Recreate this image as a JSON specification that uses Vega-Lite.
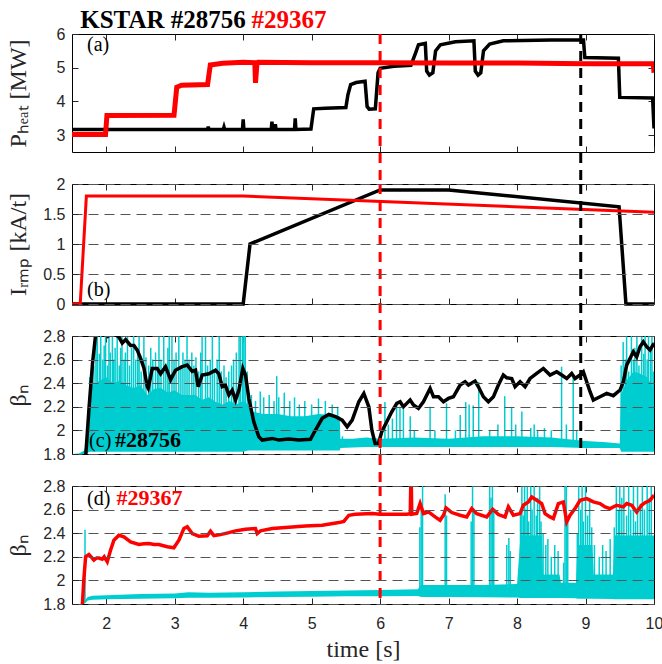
{
"$schema": "https://vega.github.io/schema/vega-lite/v6.json",
"background": "white",
"padding": {"left": 5, "top": 7, "right": 0, "bottom": 0},
"spacing": 32,
"bounds": "flush",
"config": {
  "view": {"stroke": "#000000", "strokeWidth": 1},
  "axis": {"domain": false, "grid": false, "tickColor": "#262626", "tickSize": -6, "tickWidth": 1, "labelFont": "Liberation Sans", "labelFontSize": 16, "labelColor": "#262626", "labelFlush": false, "titleFont": "Liberation Serif", "titleFontSize": 24, "titleFontWeight": "normal", "titleColor": "#262626", "gridColor": "#555555", "gridDash": [10, 6], "gridWidth": 1, "gridOpacity": 1}
},
"datasets": {
  "a_k": [{"t":1.5,"v":3.17},{"t":3.48,"v":3.17},{"t":3.49,"v":3.25},{"t":3.5,"v":3.17},{"t":3.71,"v":3.17},{"t":3.72,"v":3.24},{"t":3.73,"v":3.17},{"t":3.99,"v":3.17},{"t":4.0,"v":3.47},{"t":4.01,"v":3.17},{"t":4.41,"v":3.17},{"t":4.42,"v":3.4},{"t":4.43,"v":3.17},{"t":4.46,"v":3.17},{"t":4.47,"v":3.32},{"t":4.48,"v":3.17},{"t":4.75,"v":3.17},{"t":4.76,"v":3.5},{"t":4.77,"v":3.17},{"t":4.99,"v":3.18},{"t":5.03,"v":3.78},{"t":5.2,"v":3.8},{"t":5.5,"v":3.82},{"t":5.53,"v":4.2},{"t":5.57,"v":4.5},{"t":5.65,"v":4.56},{"t":5.78,"v":4.6},{"t":5.81,"v":3.85},{"t":5.84,"v":3.77},{"t":5.93,"v":3.78},{"t":5.97,"v":4.85},{"t":6.0,"v":4.98},{"t":6.2,"v":5.04},{"t":6.45,"v":5.07},{"t":6.52,"v":5.45},{"t":6.56,"v":5.68},{"t":6.66,"v":5.72},{"t":6.68,"v":4.9},{"t":6.72,"v":4.78},{"t":6.77,"v":4.85},{"t":6.81,"v":5.5},{"t":6.88,"v":5.68},{"t":7.1,"v":5.77},{"t":7.37,"v":5.8},{"t":7.39,"v":4.9},{"t":7.43,"v":4.78},{"t":7.47,"v":4.85},{"t":7.51,"v":5.5},{"t":7.6,"v":5.7},{"t":7.8,"v":5.8},{"t":8.5,"v":5.82},{"t":8.97,"v":5.82},{"t":8.99,"v":5.3},{"t":9.48,"v":5.28},{"t":9.5,"v":4.12},{"t":9.98,"v":4.1},{"t":10.0,"v":3.2}],
  "a_r": [{"t":1.5,"v":3.02},{"t":1.99,"v":3.02},{"t":2.01,"v":3.58},{"t":2.99,"v":3.59},{"t":3.03,"v":4.42},{"t":3.1,"v":4.48},{"t":3.48,"v":4.5},{"t":3.52,"v":5.08},{"t":3.7,"v":5.13},{"t":4.0,"v":5.16},{"t":4.17,"v":5.15},{"t":4.18,"v":4.55},{"t":4.2,"v":5.1},{"t":4.22,"v":5.16},{"t":5.0,"v":5.15},{"t":6.0,"v":5.15},{"t":7.0,"v":5.14},{"t":8.0,"v":5.14},{"t":9.0,"v":5.12},{"t":9.99,"v":5.12},{"t":10.0,"v":4.85}],
  "b_r": [{"t":1.5,"v":0},{"t":1.62,"v":0},{"t":1.71,"v":1.8},{"t":4.0,"v":1.8},{"t":10.0,"v":1.53}],
  "b_k": [{"t":1.5,"v":0},{"t":4.0,"v":0},{"t":4.1,"v":1.0},{"t":6.0,"v":1.9},{"t":7.0,"v":1.9},{"t":9.49,"v":1.62},{"t":9.59,"v":0},{"t":10.0,"v":0}],
  "c_k": [{"t":1.7,"v":1.78},{"t":1.75,"v":2.2},{"t":1.8,"v":2.57},{"t":1.845,"v":2.81},{"t":1.9,"v":2.95},{"t":1.97,"v":2.9},{"t":2.03,"v":2.8},{"t":2.1,"v":2.83},{"t":2.185,"v":2.79},{"t":2.234,"v":2.74},{"t":2.283,"v":2.77},{"t":2.356,"v":2.72},{"t":2.404,"v":2.72},{"t":2.453,"v":2.68},{"t":2.502,"v":2.61},{"t":2.55,"v":2.53},{"t":2.599,"v":2.37},{"t":2.613,"v":2.356},{"t":2.672,"v":2.525},{"t":2.745,"v":2.525},{"t":2.794,"v":2.48},{"t":2.866,"v":2.54},{"t":2.94,"v":2.43},{"t":3.012,"v":2.51},{"t":3.11,"v":2.54},{"t":3.183,"v":2.553},{"t":3.256,"v":2.5},{"t":3.304,"v":2.51},{"t":3.343,"v":2.37},{"t":3.402,"v":2.47},{"t":3.499,"v":2.48},{"t":3.596,"v":2.51},{"t":3.645,"v":2.48},{"t":3.694,"v":2.37},{"t":3.742,"v":2.38},{"t":3.791,"v":2.3},{"t":3.84,"v":2.34},{"t":3.888,"v":2.257},{"t":3.937,"v":2.34},{"t":3.995,"v":2.525},{"t":4.034,"v":2.47},{"t":4.083,"v":2.27},{"t":4.156,"v":2.07},{"t":4.229,"v":1.946},{"t":4.278,"v":1.918},{"t":4.424,"v":1.932},{"t":4.521,"v":1.918},{"t":4.667,"v":1.926},{"t":4.813,"v":1.918},{"t":4.983,"v":1.924},{"t":5.056,"v":2.003},{"t":5.154,"v":2.102},{"t":5.251,"v":2.135},{"t":5.348,"v":2.116},{"t":5.446,"v":2.087},{"t":5.519,"v":2.031},{"t":5.592,"v":2.087},{"t":5.689,"v":2.243},{"t":5.762,"v":2.313},{"t":5.835,"v":2.2},{"t":5.88,"v":2.0},{"t":5.927,"v":1.89},{"t":5.976,"v":1.89},{"t":6.024,"v":1.989},{"t":6.097,"v":2.073},{"t":6.17,"v":2.158},{"t":6.243,"v":2.229},{"t":6.292,"v":2.243},{"t":6.34,"v":2.2},{"t":6.389,"v":2.229},{"t":6.438,"v":2.257},{"t":6.487,"v":2.215},{"t":6.56,"v":2.186},{"t":6.632,"v":2.243},{"t":6.73,"v":2.356},{"t":6.779,"v":2.285},{"t":6.852,"v":2.285},{"t":6.925,"v":2.243},{"t":6.998,"v":2.271},{"t":7.07,"v":2.285},{"t":7.168,"v":2.384},{"t":7.241,"v":2.412},{"t":7.29,"v":2.384},{"t":7.387,"v":2.418},{"t":7.436,"v":2.37},{"t":7.508,"v":2.285},{"t":7.581,"v":2.243},{"t":7.655,"v":2.285},{"t":7.727,"v":2.384},{"t":7.8,"v":2.469},{"t":7.85,"v":2.446},{"t":7.922,"v":2.44},{"t":7.971,"v":2.37},{"t":8.044,"v":2.412},{"t":8.117,"v":2.37},{"t":8.19,"v":2.44},{"t":8.287,"v":2.483},{"t":8.384,"v":2.525},{"t":8.482,"v":2.469},{"t":8.579,"v":2.497},{"t":8.652,"v":2.469},{"t":8.725,"v":2.44},{"t":8.798,"v":2.483},{"t":8.847,"v":2.44},{"t":8.92,"v":2.469},{"t":8.968,"v":2.497},{"t":9.017,"v":2.412},{"t":9.066,"v":2.328},{"t":9.114,"v":2.257},{"t":9.212,"v":2.285},{"t":9.309,"v":2.313},{"t":9.406,"v":2.294},{"t":9.504,"v":2.342},{"t":9.552,"v":2.412},{"t":9.601,"v":2.553},{"t":9.65,"v":2.61},{"t":9.698,"v":2.666},{"t":9.747,"v":2.624},{"t":9.796,"v":2.709},{"t":9.844,"v":2.751},{"t":9.893,"v":2.709},{"t":9.942,"v":2.681},{"t":9.99,"v":2.729},{"t":10.0,"v":2.73}],
  "c_band": [{"t":1.5,"lo":1.8,"hi":1.8},{"t":1.6,"lo":1.8,"hi":1.805},{"t":1.68,"lo":1.8,"hi":1.83},{"t":1.72,"lo":1.81,"hi":1.95},{"t":1.76,"lo":1.82,"hi":2.25},{"t":1.8,"lo":1.82,"hi":2.38},{"t":1.9,"lo":1.82,"hi":2.42},{"t":2.0,"lo":1.82,"hi":2.45},{"t":2.1,"lo":1.82,"hi":2.4},{"t":2.2,"lo":1.82,"hi":2.42},{"t":2.3,"lo":1.82,"hi":2.38},{"t":2.4,"lo":1.82,"hi":2.36},{"t":2.5,"lo":1.82,"hi":2.38},{"t":2.6,"lo":1.82,"hi":2.3},{"t":2.7,"lo":1.82,"hi":2.35},{"t":2.8,"lo":1.82,"hi":2.36},{"t":2.9,"lo":1.82,"hi":2.32},{"t":3.0,"lo":1.82,"hi":2.34},{"t":3.1,"lo":1.82,"hi":2.3},{"t":3.2,"lo":1.82,"hi":2.3},{"t":3.3,"lo":1.82,"hi":2.3},{"t":3.4,"lo":1.82,"hi":2.26},{"t":3.5,"lo":1.82,"hi":2.28},{"t":3.6,"lo":1.82,"hi":2.24},{"t":3.7,"lo":1.82,"hi":2.22},{"t":3.8,"lo":1.82,"hi":2.25},{"t":3.9,"lo":1.82,"hi":2.22},{"t":4.0,"lo":1.82,"hi":2.25},{"t":4.07,"lo":1.83,"hi":2.22},{"t":4.12,"lo":1.83,"hi":2.16},{"t":4.3,"lo":1.83,"hi":2.14},{"t":4.5,"lo":1.83,"hi":2.14},{"t":4.7,"lo":1.83,"hi":2.12},{"t":4.9,"lo":1.83,"hi":2.12},{"t":5.1,"lo":1.83,"hi":2.14},{"t":5.3,"lo":1.83,"hi":2.13},{"t":5.41,"lo":1.83,"hi":2.12},{"t":5.42,"lo":1.85,"hi":1.93},{"t":5.6,"lo":1.855,"hi":1.93},{"t":5.8,"lo":1.86,"hi":1.94},{"t":6.0,"lo":1.86,"hi":1.93},{"t":6.5,"lo":1.86,"hi":1.94},{"t":7.0,"lo":1.86,"hi":1.93},{"t":7.5,"lo":1.86,"hi":1.95},{"t":8.0,"lo":1.86,"hi":1.95},{"t":8.5,"lo":1.86,"hi":1.94},{"t":9.0,"lo":1.85,"hi":1.91},{"t":9.3,"lo":1.85,"hi":1.9},{"t":9.5,"lo":1.85,"hi":1.89},{"t":9.52,"lo":1.82,"hi":2.3},{"t":9.6,"lo":1.82,"hi":2.42},{"t":9.7,"lo":1.82,"hi":2.5},{"t":9.8,"lo":1.82,"hi":2.48},{"t":9.9,"lo":1.82,"hi":2.45},{"t":10.0,"lo":1.82,"hi":2.35}],
  "c_sp": [{"t":1.76,"lo":1.86,"hi":2.45},{"t":1.79,"lo":1.86,"hi":2.6},{"t":1.82,"lo":1.86,"hi":2.55},{"t":1.85,"lo":1.86,"hi":2.75},{"t":1.87,"lo":1.86,"hi":2.8},{"t":1.9,"lo":1.86,"hi":2.65},{"t":1.92,"lo":1.86,"hi":2.8},{"t":1.95,"lo":1.86,"hi":2.6},{"t":1.97,"lo":1.86,"hi":2.72},{"t":1.99,"lo":1.86,"hi":2.8},{"t":2.02,"lo":1.86,"hi":2.55},{"t":2.04,"lo":1.86,"hi":2.8},{"t":2.06,"lo":1.86,"hi":2.66},{"t":2.09,"lo":1.86,"hi":2.8},{"t":2.11,"lo":1.86,"hi":2.6},{"t":2.13,"lo":1.86,"hi":2.7},{"t":2.16,"lo":1.86,"hi":2.8},{"t":2.19,"lo":1.86,"hi":2.55},{"t":2.21,"lo":1.86,"hi":2.7},{"t":2.23,"lo":1.86,"hi":2.8},{"t":2.26,"lo":1.86,"hi":2.6},{"t":2.28,"lo":1.86,"hi":2.66},{"t":2.31,"lo":1.86,"hi":2.8},{"t":2.34,"lo":1.86,"hi":2.55},{"t":2.37,"lo":1.86,"hi":2.7},{"t":2.4,"lo":1.86,"hi":2.8},{"t":2.43,"lo":1.86,"hi":2.6},{"t":2.46,"lo":1.86,"hi":2.66},{"t":2.48,"lo":1.86,"hi":2.8},{"t":2.51,"lo":1.86,"hi":2.5},{"t":2.55,"lo":1.86,"hi":2.8},{"t":2.58,"lo":1.86,"hi":2.62},{"t":2.62,"lo":1.86,"hi":2.55},{"t":2.65,"lo":1.86,"hi":2.7},{"t":2.68,"lo":1.86,"hi":2.6},{"t":2.72,"lo":1.86,"hi":2.66},{"t":2.75,"lo":1.86,"hi":2.5},{"t":2.77,"lo":1.86,"hi":2.8},{"t":2.8,"lo":1.86,"hi":2.6},{"t":2.84,"lo":1.86,"hi":2.8},{"t":2.87,"lo":1.86,"hi":2.55},{"t":2.9,"lo":1.86,"hi":2.7},{"t":2.92,"lo":1.86,"hi":2.8},{"t":2.96,"lo":1.86,"hi":2.8},{"t":2.99,"lo":1.86,"hi":2.6},{"t":3.02,"lo":1.86,"hi":2.66},{"t":3.06,"lo":1.86,"hi":2.8},{"t":3.09,"lo":1.86,"hi":2.55},{"t":3.12,"lo":1.86,"hi":2.66},{"t":3.15,"lo":1.86,"hi":2.6},{"t":3.18,"lo":1.86,"hi":2.8},{"t":3.21,"lo":1.86,"hi":2.6},{"t":3.25,"lo":1.86,"hi":2.66},{"t":3.28,"lo":1.86,"hi":2.55},{"t":3.31,"lo":1.86,"hi":2.62},{"t":3.35,"lo":1.86,"hi":2.5},{"t":3.38,"lo":1.86,"hi":2.66},{"t":3.4,"lo":1.86,"hi":2.8},{"t":3.45,"lo":1.86,"hi":2.8},{"t":3.48,"lo":1.86,"hi":2.55},{"t":3.52,"lo":1.86,"hi":2.6},{"t":3.55,"lo":1.86,"hi":2.8},{"t":3.58,"lo":1.86,"hi":2.5},{"t":3.62,"lo":1.86,"hi":2.6},{"t":3.65,"lo":1.86,"hi":2.8},{"t":3.68,"lo":1.86,"hi":2.5},{"t":3.72,"lo":1.86,"hi":2.55},{"t":3.75,"lo":1.86,"hi":2.45},{"t":3.79,"lo":1.86,"hi":2.5},{"t":3.83,"lo":1.86,"hi":2.55},{"t":3.86,"lo":1.86,"hi":2.6},{"t":3.9,"lo":1.86,"hi":2.66},{"t":3.94,"lo":1.86,"hi":2.8},{"t":3.96,"lo":1.86,"hi":2.8},{"t":3.99,"lo":1.86,"hi":2.8},{"t":4.01,"lo":1.86,"hi":2.8},{"t":4.03,"lo":1.86,"hi":2.8},{"t":4.06,"lo":1.86,"hi":2.5},{"t":4.12,"lo":1.86,"hi":2.3},{"t":4.18,"lo":1.86,"hi":2.25},{"t":4.25,"lo":1.86,"hi":2.33},{"t":4.3,"lo":1.86,"hi":2.28},{"t":4.38,"lo":1.86,"hi":2.3},{"t":4.45,"lo":1.86,"hi":2.25},{"t":4.49,"lo":1.86,"hi":2.46},{"t":4.52,"lo":1.86,"hi":2.28},{"t":4.6,"lo":1.86,"hi":2.32},{"t":4.68,"lo":1.86,"hi":2.25},{"t":4.75,"lo":1.86,"hi":2.28},{"t":4.82,"lo":1.86,"hi":2.22},{"t":4.9,"lo":1.86,"hi":2.25},{"t":5.0,"lo":1.86,"hi":2.22},{"t":5.1,"lo":1.86,"hi":2.27},{"t":5.2,"lo":1.86,"hi":2.25},{"t":5.3,"lo":1.86,"hi":2.22},{"t":5.38,"lo":1.86,"hi":2.2},{"t":5.45,"lo":1.86,"hi":1.95},{"t":5.5,"lo":1.86,"hi":1.92},{"t":5.7,"lo":1.86,"hi":1.93},{"t":5.9,"lo":1.86,"hi":1.92},{"t":6.07,"lo":1.86,"hi":2.24},{"t":6.12,"lo":1.86,"hi":2.05},{"t":6.18,"lo":1.86,"hi":2.1},{"t":6.24,"lo":1.86,"hi":2.23},{"t":6.29,"lo":1.86,"hi":2.2},{"t":6.34,"lo":1.86,"hi":2.18},{"t":6.44,"lo":1.86,"hi":2.12},{"t":6.5,"lo":1.86,"hi":2.0},{"t":6.73,"lo":1.86,"hi":2.2},{"t":6.8,"lo":1.86,"hi":2.0},{"t":6.97,"lo":1.86,"hi":2.23},{"t":7.1,"lo":1.86,"hi":2.0},{"t":7.17,"lo":1.86,"hi":2.13},{"t":7.25,"lo":1.86,"hi":2.24},{"t":7.3,"lo":1.86,"hi":2.22},{"t":7.36,"lo":1.86,"hi":2.21},{"t":7.44,"lo":1.86,"hi":2.41},{"t":7.6,"lo":1.86,"hi":2.0},{"t":7.72,"lo":1.86,"hi":2.05},{"t":7.82,"lo":1.86,"hi":2.29},{"t":7.92,"lo":1.86,"hi":2.2},{"t":7.98,"lo":1.86,"hi":2.05},{"t":8.07,"lo":1.86,"hi":2.16},{"t":8.2,"lo":1.86,"hi":2.02},{"t":8.25,"lo":1.86,"hi":2.05},{"t":8.3,"lo":1.86,"hi":2.0},{"t":8.4,"lo":1.86,"hi":2.02},{"t":8.5,"lo":1.86,"hi":2.0},{"t":8.65,"lo":1.86,"hi":2.54},{"t":8.72,"lo":1.86,"hi":2.05},{"t":8.82,"lo":1.86,"hi":2.45},{"t":8.87,"lo":1.86,"hi":2.0},{"t":9.52,"lo":1.86,"hi":2.55},{"t":9.55,"lo":1.86,"hi":2.75},{"t":9.58,"lo":1.86,"hi":2.6},{"t":9.6,"lo":1.86,"hi":2.8},{"t":9.63,"lo":1.86,"hi":2.5},{"t":9.67,"lo":1.86,"hi":2.8},{"t":9.7,"lo":1.86,"hi":2.6},{"t":9.72,"lo":1.86,"hi":2.7},{"t":9.75,"lo":1.86,"hi":2.8},{"t":9.78,"lo":1.86,"hi":2.55},{"t":9.82,"lo":1.86,"hi":2.8},{"t":9.85,"lo":1.86,"hi":2.65},{"t":9.87,"lo":1.86,"hi":2.8},{"t":9.9,"lo":1.86,"hi":2.6},{"t":9.92,"lo":1.86,"hi":2.8},{"t":9.95,"lo":1.86,"hi":2.7},{"t":9.97,"lo":1.86,"hi":2.8},{"t":9.99,"lo":1.86,"hi":2.5}],
  "d_r": [{"t":1.65,"v":1.78},{"t":1.674,"v":2.017},{"t":1.699,"v":2.2},{"t":1.747,"v":2.22},{"t":1.78,"v":2.2},{"t":1.82,"v":2.172},{"t":1.86,"v":2.19},{"t":1.893,"v":2.19},{"t":1.942,"v":2.18},{"t":1.97,"v":2.2},{"t":2.015,"v":2.158},{"t":2.064,"v":2.257},{"t":2.112,"v":2.341},{"t":2.185,"v":2.383},{"t":2.258,"v":2.37},{"t":2.356,"v":2.327},{"t":2.477,"v":2.304},{"t":2.55,"v":2.31},{"t":2.623,"v":2.313},{"t":2.7,"v":2.305},{"t":2.769,"v":2.304},{"t":2.891,"v":2.285},{"t":2.988,"v":2.276},{"t":3.061,"v":2.34},{"t":3.134,"v":2.44},{"t":3.183,"v":2.454},{"t":3.256,"v":2.397},{"t":3.353,"v":2.375},{"t":3.475,"v":2.378},{"t":3.523,"v":2.417},{"t":3.572,"v":2.38},{"t":3.669,"v":2.388},{"t":3.791,"v":2.405},{"t":3.888,"v":2.42},{"t":4.034,"v":2.434},{"t":4.18,"v":2.44},{"t":4.205,"v":2.397},{"t":4.253,"v":2.42},{"t":4.424,"v":2.44},{"t":4.667,"v":2.451},{"t":4.91,"v":2.462},{"t":5.154,"v":2.468},{"t":5.397,"v":2.49},{"t":5.47,"v":2.5},{"t":5.543,"v":2.552},{"t":5.64,"v":2.56},{"t":5.884,"v":2.566},{"t":6.0,"v":2.561},{"t":6.389,"v":2.561},{"t":6.44,"v":2.565},{"t":6.448,"v":2.82},{"t":6.455,"v":2.82},{"t":6.462,"v":2.561},{"t":6.535,"v":2.567},{"t":6.584,"v":2.651},{"t":6.633,"v":2.567},{"t":6.706,"v":2.58},{"t":6.803,"v":2.538},{"t":6.876,"v":2.51},{"t":6.925,"v":2.552},{"t":6.963,"v":2.614},{"t":7.046,"v":2.575},{"t":7.168,"v":2.552},{"t":7.265,"v":2.538},{"t":7.338,"v":2.609},{"t":7.411,"v":2.566},{"t":7.557,"v":2.538},{"t":7.645,"v":2.603},{"t":7.727,"v":2.558},{"t":7.825,"v":2.538},{"t":7.873,"v":2.623},{"t":7.946,"v":2.552},{"t":8.044,"v":2.566},{"t":8.092,"v":2.637},{"t":8.165,"v":2.665},{"t":8.214,"v":2.707},{"t":8.287,"v":2.679},{"t":8.36,"v":2.651},{"t":8.409,"v":2.566},{"t":8.482,"v":2.538},{"t":8.53,"v":2.524},{"t":8.603,"v":2.651},{"t":8.676,"v":2.665},{"t":8.725,"v":2.496},{"t":8.774,"v":2.552},{"t":8.847,"v":2.609},{"t":8.92,"v":2.679},{"t":9.017,"v":2.693},{"t":9.114,"v":2.665},{"t":9.212,"v":2.651},{"t":9.285,"v":2.623},{"t":9.358,"v":2.609},{"t":9.455,"v":2.637},{"t":9.552,"v":2.623},{"t":9.601,"v":2.651},{"t":9.674,"v":2.637},{"t":9.747,"v":2.58},{"t":9.82,"v":2.637},{"t":9.869,"v":2.659},{"t":9.942,"v":2.679},{"t":9.99,"v":2.716},{"t":10.0,"v":2.72}],
  "d_band": [{"t":1.62,"lo":1.8,"hi":1.8},{"t":1.66,"lo":1.8,"hi":1.81},{"t":1.7,"lo":1.81,"hi":1.84},{"t":1.73,"lo":1.83,"hi":1.86},{"t":1.8,"lo":1.835,"hi":1.87},{"t":2.0,"lo":1.84,"hi":1.875},{"t":2.5,"lo":1.845,"hi":1.885},{"t":3.0,"lo":1.848,"hi":1.89},{"t":3.2,"lo":1.852,"hi":1.9},{"t":3.5,"lo":1.853,"hi":1.895},{"t":4.0,"lo":1.856,"hi":1.9},{"t":4.5,"lo":1.86,"hi":1.905},{"t":5.0,"lo":1.862,"hi":1.91},{"t":5.5,"lo":1.865,"hi":1.915},{"t":6.0,"lo":1.865,"hi":1.918},{"t":6.55,"lo":1.868,"hi":1.925},{"t":6.6,"lo":1.86,"hi":1.96},{"t":7.0,"lo":1.86,"hi":1.96},{"t":7.5,"lo":1.858,"hi":1.96},{"t":8.0,"lo":1.855,"hi":1.97},{"t":8.05,"lo":1.85,"hi":2.38},{"t":8.36,"lo":1.85,"hi":2.38},{"t":8.38,"lo":1.85,"hi":2.05},{"t":8.62,"lo":1.85,"hi":2.05},{"t":8.64,"lo":1.85,"hi":1.98},{"t":8.86,"lo":1.848,"hi":1.98},{"t":8.88,"lo":1.845,"hi":2.3},{"t":9.1,"lo":1.845,"hi":2.3},{"t":9.12,"lo":1.845,"hi":2.05},{"t":9.4,"lo":1.842,"hi":2.05},{"t":9.42,"lo":1.84,"hi":2.38},{"t":10.0,"lo":1.84,"hi":2.38}],
  "d_sp": [{"t":1.69,"lo":1.82,"hi":2.43},{"t":6.58,"lo":1.88,"hi":2.45},{"t":6.6,"lo":1.88,"hi":2.6},{"t":6.62,"lo":1.88,"hi":2.8},{"t":6.95,"lo":1.88,"hi":2.73},{"t":6.97,"lo":1.88,"hi":2.55},{"t":7.33,"lo":1.88,"hi":2.5},{"t":7.35,"lo":1.88,"hi":2.8},{"t":7.37,"lo":1.88,"hi":2.6},{"t":7.6,"lo":1.88,"hi":2.8},{"t":7.62,"lo":1.88,"hi":2.7},{"t":7.64,"lo":1.88,"hi":2.8},{"t":7.66,"lo":1.88,"hi":2.6},{"t":7.85,"lo":1.88,"hi":2.3},{"t":7.88,"lo":1.88,"hi":2.36},{"t":7.9,"lo":1.88,"hi":2.25},{"t":8.05,"lo":1.88,"hi":2.6},{"t":8.07,"lo":1.88,"hi":2.8},{"t":8.09,"lo":1.88,"hi":2.55},{"t":8.11,"lo":1.88,"hi":2.8},{"t":8.13,"lo":1.88,"hi":2.6},{"t":8.15,"lo":1.88,"hi":2.8},{"t":8.17,"lo":1.88,"hi":2.5},{"t":8.2,"lo":1.88,"hi":2.8},{"t":8.22,"lo":1.88,"hi":2.6},{"t":8.25,"lo":1.88,"hi":2.8},{"t":8.28,"lo":1.88,"hi":2.55},{"t":8.3,"lo":1.88,"hi":2.7},{"t":8.33,"lo":1.88,"hi":2.8},{"t":8.35,"lo":1.88,"hi":2.5},{"t":8.38,"lo":1.88,"hi":2.4},{"t":8.42,"lo":1.88,"hi":2.3},{"t":8.45,"lo":1.88,"hi":2.35},{"t":8.5,"lo":1.88,"hi":2.2},{"t":8.55,"lo":1.88,"hi":2.3},{"t":8.6,"lo":1.88,"hi":2.25},{"t":8.68,"lo":1.88,"hi":2.15},{"t":8.7,"lo":1.88,"hi":2.8},{"t":8.72,"lo":1.88,"hi":2.8},{"t":8.74,"lo":1.88,"hi":2.5},{"t":8.88,"lo":1.88,"hi":2.4},{"t":8.9,"lo":1.88,"hi":2.8},{"t":8.93,"lo":1.88,"hi":2.6},{"t":8.95,"lo":1.88,"hi":2.8},{"t":8.97,"lo":1.88,"hi":2.5},{"t":9.0,"lo":1.88,"hi":2.8},{"t":9.03,"lo":1.88,"hi":2.55},{"t":9.06,"lo":1.88,"hi":2.7},{"t":9.09,"lo":1.88,"hi":2.45},{"t":9.13,"lo":1.88,"hi":2.3},{"t":9.2,"lo":1.88,"hi":2.2},{"t":9.25,"lo":1.88,"hi":2.3},{"t":9.3,"lo":1.88,"hi":2.25},{"t":9.36,"lo":1.88,"hi":2.35},{"t":9.42,"lo":1.88,"hi":2.45},{"t":9.45,"lo":1.88,"hi":2.8},{"t":9.48,"lo":1.88,"hi":2.6},{"t":9.5,"lo":1.88,"hi":2.8},{"t":9.53,"lo":1.88,"hi":2.7},{"t":9.56,"lo":1.88,"hi":2.8},{"t":9.6,"lo":1.88,"hi":2.55},{"t":9.63,"lo":1.88,"hi":2.8},{"t":9.66,"lo":1.88,"hi":2.6},{"t":9.7,"lo":1.88,"hi":2.8},{"t":9.73,"lo":1.88,"hi":2.5},{"t":9.76,"lo":1.88,"hi":2.8},{"t":9.8,"lo":1.88,"hi":2.65},{"t":9.83,"lo":1.88,"hi":2.8},{"t":9.86,"lo":1.88,"hi":2.6},{"t":9.9,"lo":1.88,"hi":2.8},{"t":9.93,"lo":1.88,"hi":2.7},{"t":9.96,"lo":1.88,"hi":2.8},{"t":9.99,"lo":1.88,"hi":2.35}]
},
"vconcat": [
{
 "width": 582, "height": 118,
 "resolve": {"axis": {"x": "independent", "y": "independent"}},
 "layer": [
  {"data": {"name": "a_k"}, "mark": {"type": "line", "color": "#000000", "strokeWidth": 3.5, "clip": true},
   "encoding": {
    "x": {"field": "t", "type": "quantitative", "scale": {"domain": [1.5, 10], "nice": false, "zero": false}, "axis": {"orient": "bottom", "values": [2,3,4,5,6,7,8,9,10], "labels": false, "title": null}},
    "y": {"field": "v", "type": "quantitative", "scale": {"domain": [2.5, 6], "nice": false, "zero": false}, "axis": {"orient": "left", "values": [3,4,5,6], "format": "~g", "labelPadding": 13, "title": "Pₕₑₐₜ [MW]", "titleX": -42, "titleBaseline": "bottom"}}}},
  {"data": {"name": "a_r"}, "mark": {"type": "line", "color": "#ff0000", "strokeWidth": 5, "clip": true},
   "encoding": {
    "x": {"field": "t", "type": "quantitative", "scale": {"domain": [1.5, 10], "nice": false, "zero": false}, "axis": {"orient": "top", "values": [2,3,4,5,6,7,8,9,10], "labels": false, "title": null}},
    "y": {"field": "v", "type": "quantitative", "scale": {"domain": [2.5, 6], "nice": false, "zero": false}, "axis": {"orient": "right", "values": [3,4,5,6], "labels": false, "title": null}}}},
  {"data": {"values": [{}]}, "mark": {"type": "rule", "color": "#ff0000", "strokeWidth": 3, "strokeDash": [10, 7], "clip": false},
   "encoding": {"x": {"datum": 6, "scale": {"domain": [1.5, 10], "nice": false, "zero": false}, "axis": null}, "y": {"datum": 6, "scale": {"domain": [2.5, 6], "nice": false, "zero": false}, "axis": null}, "y2": {"datum": 1.55}}},
  {"data": {"values": [{}]}, "mark": {"type": "rule", "color": "#000000", "strokeWidth": 3, "strokeDash": [10, 7], "clip": false},
   "encoding": {"x": {"datum": 8.93, "scale": {"domain": [1.5, 10], "nice": false, "zero": false}, "axis": null}, "y": {"datum": 6, "scale": {"domain": [2.5, 6], "nice": false, "zero": false}, "axis": null}, "y2": {"datum": 1.55}}},
  {"data": {"values": [{}]}, "mark": {"type": "text", "text": "(a)", "font": "Liberation Serif", "fontSize": 20, "align": "left", "baseline": "alphabetic", "color": "#000000"},
   "encoding": {"x": {"datum": 1.72, "scale": {"domain": [1.5, 10], "nice": false, "zero": false}, "axis": null}, "y": {"datum": 5.5, "scale": {"domain": [2.5, 6], "nice": false, "zero": false}, "axis": null}}},
  {"data": {"values": [{}]}, "mark": {"type": "text", "text": "KSTAR #28756", "font": "Liberation Serif", "fontSize": 25, "fontWeight": "bold", "align": "left", "baseline": "alphabetic", "color": "#000000"},
   "encoding": {"x": {"datum": 1.62, "scale": {"domain": [1.5, 10], "nice": false, "zero": false}, "axis": null}, "y": {"datum": 6.19, "scale": {"domain": [2.5, 6], "nice": false, "zero": false}, "axis": null}}},
  {"data": {"values": [{}]}, "mark": {"type": "text", "text": "#29367", "font": "Liberation Serif", "fontSize": 25, "fontWeight": "bold", "align": "left", "baseline": "alphabetic", "color": "#ff0000"},
   "encoding": {"x": {"datum": 4.12, "scale": {"domain": [1.5, 10], "nice": false, "zero": false}, "axis": null}, "y": {"datum": 6.19, "scale": {"domain": [2.5, 6], "nice": false, "zero": false}, "axis": null}}}
 ]
},
{
 "width": 582, "height": 120,
 "resolve": {"axis": {"x": "independent", "y": "independent"}},
 "layer": [
  {"data": {"name": "b_k"}, "mark": {"type": "line", "color": "#000000", "strokeWidth": 3.5, "clip": false},
   "encoding": {
    "x": {"field": "t", "type": "quantitative", "scale": {"domain": [1.5, 10], "nice": false, "zero": false}, "axis": {"orient": "bottom", "values": [2,3,4,5,6,7,8,9,10], "labels": false, "title": null}},
    "y": {"field": "v", "type": "quantitative", "scale": {"domain": [0, 2], "nice": false, "zero": false}, "axis": {"orient": "left", "values": [0,0.5,1,1.5,2], "format": "~g", "labelPadding": 13, "grid": true, "zindex": 1, "title": "Iᵣₘₚ [kA/t]", "titleX": -42, "titleBaseline": "bottom"}}}},
  {"data": {"name": "b_r"}, "mark": {"type": "line", "color": "#ff0000", "strokeWidth": 3, "clip": false},
   "encoding": {
    "x": {"field": "t", "type": "quantitative", "scale": {"domain": [1.5, 10], "nice": false, "zero": false}, "axis": {"orient": "top", "values": [2,3,4,5,6,7,8,9,10], "labels": false, "title": null}},
    "y": {"field": "v", "type": "quantitative", "scale": {"domain": [0, 2], "nice": false, "zero": false}, "axis": {"orient": "right", "values": [0,0.5,1,1.5,2], "labels": false, "title": null}}}},
  {"data": {"values": [{}]}, "mark": {"type": "rule", "color": "#ff0000", "strokeWidth": 3, "strokeDash": [10, 7], "clip": false},
   "encoding": {"x": {"datum": 6, "scale": {"domain": [1.5, 10], "nice": false, "zero": false}, "axis": null}, "y": {"datum": 2, "scale": {"domain": [0, 2], "nice": false, "zero": false}, "axis": null}, "y2": {"datum": -0.53}}},
  {"data": {"values": [{}]}, "mark": {"type": "rule", "color": "#000000", "strokeWidth": 3, "strokeDash": [10, 7], "clip": false},
   "encoding": {"x": {"datum": 8.93, "scale": {"domain": [1.5, 10], "nice": false, "zero": false}, "axis": null}, "y": {"datum": 2, "scale": {"domain": [0, 2], "nice": false, "zero": false}, "axis": null}, "y2": {"datum": -0.53}}},
  {"data": {"values": [{}]}, "mark": {"type": "text", "text": "(b)", "font": "Liberation Serif", "fontSize": 20, "align": "left", "baseline": "alphabetic", "color": "#000000"},
   "encoding": {"x": {"datum": 1.72, "scale": {"domain": [1.5, 10], "nice": false, "zero": false}, "axis": null}, "y": {"datum": 0.13, "scale": {"domain": [0, 2], "nice": false, "zero": false}, "axis": null}}}
 ]
},
{
 "width": 582, "height": 118,
 "resolve": {"axis": {"x": "independent", "y": "independent"}},
 "layer": [
  {"data": {"name": "c_band"}, "mark": {"type": "area", "color": "#00cdd0", "opacity": 1, "clip": true},
   "encoding": {
    "x": {"field": "t", "type": "quantitative", "scale": {"domain": [1.5, 10], "nice": false, "zero": false}, "axis": {"orient": "bottom", "values": [2,3,4,5,6,7,8,9,10], "labels": false, "title": null}},
    "y": {"field": "lo", "type": "quantitative", "scale": {"domain": [1.8, 2.8], "nice": false, "zero": false}, "axis": {"orient": "left", "values": [1.8,2,2.2,2.4,2.6,2.8], "format": "~g", "labelPadding": 13, "grid": true, "zindex": 1, "title": "βₙ", "titleX": -42, "titleBaseline": "bottom"}},
    "y2": {"field": "hi"}}},
  {"data": {"name": "c_sp"}, "mark": {"type": "rule", "color": "#00cdd0", "strokeWidth": 1.5, "clip": true},
   "encoding": {
    "x": {"field": "t", "type": "quantitative", "scale": {"domain": [1.5, 10], "nice": false, "zero": false}, "axis": null},
    "y": {"field": "lo", "type": "quantitative", "scale": {"domain": [1.8, 2.8], "nice": false, "zero": false}, "axis": null},
    "y2": {"field": "hi"}}},
  {"data": {"name": "c_k"}, "mark": {"type": "line", "color": "#000000", "strokeWidth": 3.5, "clip": true},
   "encoding": {
    "x": {"field": "t", "type": "quantitative", "scale": {"domain": [1.5, 10], "nice": false, "zero": false}, "axis": {"orient": "top", "values": [2,3,4,5,6,7,8,9,10], "labels": false, "title": null}},
    "y": {"field": "v", "type": "quantitative", "scale": {"domain": [1.8, 2.8], "nice": false, "zero": false}, "axis": {"orient": "right", "values": [1.8,2,2.2,2.4,2.6,2.8], "labels": false, "title": null}}}},
  {"data": {"values": [{}]}, "mark": {"type": "rule", "color": "#ff0000", "strokeWidth": 3, "strokeDash": [10, 7], "clip": false},
   "encoding": {"x": {"datum": 6, "scale": {"domain": [1.5, 10], "nice": false, "zero": false}, "axis": null}, "y": {"datum": 2.8, "scale": {"domain": [1.8, 2.8], "nice": false, "zero": false}, "axis": null}, "y2": {"datum": 1.53}}},
  {"data": {"values": [{}]}, "mark": {"type": "rule", "color": "#000000", "strokeWidth": 3, "strokeDash": [10, 7], "clip": false},
   "encoding": {"x": {"datum": 8.93, "scale": {"domain": [1.5, 10], "nice": false, "zero": false}, "axis": null}, "y": {"datum": 2.8, "scale": {"domain": [1.8, 2.8], "nice": false, "zero": false}, "axis": null}, "y2": {"datum": 1.8}}},
  {"data": {"values": [{}]}, "mark": {"type": "text", "text": "(c)", "font": "Liberation Serif", "fontSize": 20, "align": "left", "baseline": "alphabetic", "color": "#000000"},
   "encoding": {"x": {"datum": 1.75, "scale": {"domain": [1.5, 10], "nice": false, "zero": false}, "axis": null}, "y": {"datum": 1.86, "scale": {"domain": [1.8, 2.8], "nice": false, "zero": false}, "axis": null}}},
  {"data": {"values": [{}]}, "mark": {"type": "text", "text": "#28756", "font": "Liberation Serif", "fontSize": 22, "fontWeight": "bold", "align": "left", "baseline": "alphabetic", "color": "#000000"},
   "encoding": {"x": {"datum": 2.127, "scale": {"domain": [1.5, 10], "nice": false, "zero": false}, "axis": null}, "y": {"datum": 1.86, "scale": {"domain": [1.8, 2.8], "nice": false, "zero": false}, "axis": null}}}
 ]
},
{
 "width": 582, "height": 118,
 "resolve": {"axis": {"x": "independent", "y": "independent"}},
 "layer": [
  {"data": {"name": "d_band"}, "mark": {"type": "area", "color": "#00cdd0", "opacity": 1, "clip": true},
   "encoding": {
    "x": {"field": "t", "type": "quantitative", "scale": {"domain": [1.5, 10], "nice": false, "zero": false}, "axis": {"orient": "bottom", "values": [2,3,4,5,6,7,8,9,10], "format": "d", "labelPadding": 17, "title": "time [s]", "titlePadding": 6}},
    "y": {"field": "lo", "type": "quantitative", "scale": {"domain": [1.8, 2.8], "nice": false, "zero": false}, "axis": {"orient": "left", "values": [1.8,2,2.2,2.4,2.6,2.8], "format": "~g", "labelPadding": 13, "grid": true, "zindex": 1, "title": "βₙ", "titleX": -42, "titleBaseline": "bottom"}},
    "y2": {"field": "hi"}}},
  {"data": {"name": "d_sp"}, "mark": {"type": "rule", "color": "#00cdd0", "strokeWidth": 1.5, "clip": true},
   "encoding": {
    "x": {"field": "t", "type": "quantitative", "scale": {"domain": [1.5, 10], "nice": false, "zero": false}, "axis": null},
    "y": {"field": "lo", "type": "quantitative", "scale": {"domain": [1.8, 2.8], "nice": false, "zero": false}, "axis": null},
    "y2": {"field": "hi"}}},
  {"data": {"name": "d_r"}, "mark": {"type": "line", "color": "#ff0000", "strokeWidth": 3.5, "clip": true},
   "encoding": {
    "x": {"field": "t", "type": "quantitative", "scale": {"domain": [1.5, 10], "nice": false, "zero": false}, "axis": {"orient": "top", "values": [2,3,4,5,6,7,8,9,10], "labels": false, "title": null}},
    "y": {"field": "v", "type": "quantitative", "scale": {"domain": [1.8, 2.8], "nice": false, "zero": false}, "axis": {"orient": "right", "values": [1.8,2,2.2,2.4,2.6,2.8], "labels": false, "title": null}}}},
  {"data": {"values": [{}]}, "mark": {"type": "rule", "color": "#ff0000", "strokeWidth": 3, "strokeDash": [10, 7], "clip": false},
   "encoding": {"x": {"datum": 6, "scale": {"domain": [1.5, 10], "nice": false, "zero": false}, "axis": null}, "y": {"datum": 2.8, "scale": {"domain": [1.8, 2.8], "nice": false, "zero": false}, "axis": null}, "y2": {"datum": 1.8}}},
  {"data": {"values": [{}]}, "mark": {"type": "text", "text": "(d)", "font": "Liberation Serif", "fontSize": 20, "align": "left", "baseline": "alphabetic", "color": "#000000"},
   "encoding": {"x": {"datum": 1.72, "scale": {"domain": [1.5, 10], "nice": false, "zero": false}, "axis": null}, "y": {"datum": 2.64, "scale": {"domain": [1.8, 2.8], "nice": false, "zero": false}, "axis": null}}},
  {"data": {"values": [{}]}, "mark": {"type": "text", "text": "#29367", "font": "Liberation Serif", "fontSize": 22, "fontWeight": "bold", "align": "left", "baseline": "alphabetic", "color": "#ff0000"},
   "encoding": {"x": {"datum": 2.15, "scale": {"domain": [1.5, 10], "nice": false, "zero": false}, "axis": null}, "y": {"datum": 2.64, "scale": {"domain": [1.8, 2.8], "nice": false, "zero": false}, "axis": null}}}
 ]
}
]
}
